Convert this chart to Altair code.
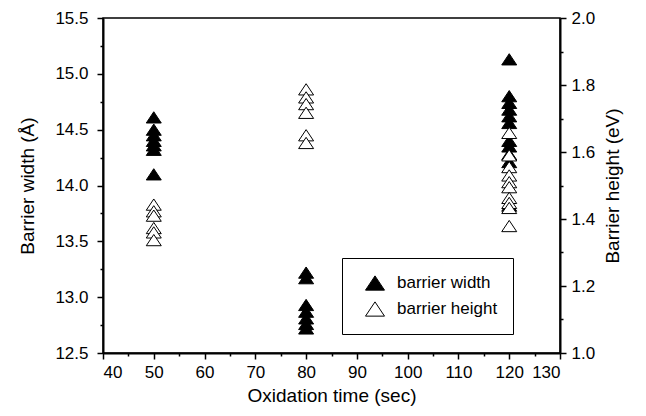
import altair as alt
import pandas as pd

# Oxidation time (sec) for each cluster
times = [50, 80, 120]

# Barrier width (Å), left axis
width_50 = [14.61, 14.50, 14.45, 14.40, 14.36, 14.32, 14.10]
width_80 = [13.22, 13.17, 12.93, 12.87, 12.81, 12.76, 12.72]
width_120 = [15.13, 14.80, 14.74, 14.68, 14.62, 14.56, 14.40, 14.35, 14.28, 14.21, 13.82]

# Barrier height (eV), right axis
height_50 = [1.443, 1.423, 1.41, 1.373, 1.36, 1.337]
height_80 = [1.787, 1.763, 1.743, 1.717, 1.65, 1.627]
height_120 = [1.657, 1.59, 1.555, 1.53, 1.51, 1.495, 1.463, 1.448, 1.433, 1.379]

series_names = ["barrier width", "barrier height"]

rows = []
for t, vals in zip(times, [width_50, width_80, width_120]):
    for v in vals:
        rows.append({"time": t, "value": v, "series": series_names[0]})
for t, vals in zip(times, [height_50, height_80, height_120]):
    for v in vals:
        rows.append({"time": t, "value": v, "series": series_names[1]})
df = pd.DataFrame(rows)

FONT = "Liberation Sans"
TRI = "M0,-0.75L-1,0.75L1,0.75Z"

x_enc = alt.X(
    "time:Q",
    scale=alt.Scale(domain=[40, 130], nice=False, zero=False),
    axis=alt.Axis(
        values=list(range(40, 131, 5)),
        labelExpr="datum.value % 10 === 0 ? datum.label : ''",
        tickSize={"condition": {"test": "datum.value % 10 === 0", "value": 6}, "value": 3},
        title="Oxidation time (sec)",
        labelPadding=5,
        titlePadding=6,
        labelOverlap=False,
    ),
)

legend = alt.Legend(
    title=None,
    orient="none",
    legendX=239,
    legendY=240,
    strokeColor="black",
    padding=15,
    symbolSize=361,
    symbolStrokeColor="black",
    symbolStrokeWidth=1,
    labelFontSize=17,
    labelFont=FONT,
    labelColor="black",
    labelExpr="datum.label + '  '",
    rowPadding=6,
    labelOffset=12,
    symbolOffset=8,
)

fill_enc = alt.Fill(
    "series:N",
    scale=alt.Scale(domain=series_names, range=["black", "white"]),
    legend=legend,
)
shape_enc = alt.Shape(
    "series:N",
    scale=alt.Scale(domain=series_names, range=[TRI, TRI]),
    legend=legend,
)
stroke_enc = alt.Stroke(
    "series:N",
    scale=alt.Scale(domain=series_names, range=["black", "black"]),
    legend=legend,
)

base = alt.Chart(df)

left = base.transform_filter(alt.datum.series == "barrier width").mark_point(
    filled=True, strokeWidth=1, opacity=1, size=225
).encode(
    x=x_enc,
    y=alt.Y(
        "value:Q",
        scale=alt.Scale(domain=[12.5, 15.5], nice=False, zero=False),
        axis=alt.Axis(
            orient="left",
            values=[12.5 + 0.25 * i for i in range(13)],
            format=".1f",
            labelExpr="abs(datum.value*2 - round(datum.value*2)) < 0.001 ? datum.label : ''",
            tickSize={"condition": {"test": "abs(datum.value*2 - round(datum.value*2)) < 0.001", "value": 6}, "value": 3},
            title="Barrier width (Å)",
            labelPadding=9,
            titlePadding=17,
            labelOverlap=False,
        ),
    ),
    fill=fill_enc,
    shape=shape_enc,
    stroke=stroke_enc,
)

right = base.transform_filter(alt.datum.series == "barrier height").mark_point(
    filled=True, strokeWidth=1, opacity=1, size=225
).encode(
    x=x_enc,
    y=alt.Y(
        "value:Q",
        scale=alt.Scale(domain=[1.0, 2.0], nice=False, zero=False),
        axis=alt.Axis(
            orient="right",
            values=[round(1.0 + 0.1 * i, 1) for i in range(11)],
            format=".1f",
            labelExpr="abs(datum.value*5 - round(datum.value*5)) < 0.001 ? datum.label : ''",
            tickSize={"condition": {"test": "abs(datum.value*5 - round(datum.value*5)) < 0.001", "value": 6}, "value": 3},
            title="Barrier height (eV)",
            titleAngle=270,
            labelPadding=5,
            titlePadding=28,
            labelOverlap=False,
        ),
    ),
    fill=fill_enc,
    shape=shape_enc,
    stroke=stroke_enc,
)

chart = (
    alt.layer(left, right)
    .resolve_scale(y="independent")
    .properties(
        width=457,
        height=335,
        autosize=alt.AutoSizeParams(type="none"),
        padding={"left": 95, "top": 10, "right": 78, "bottom": 55},
        background="white",
    )
    .configure_view(stroke="black", strokeWidth=1.5)
    .configure_axis(
        grid=False,
        domainColor="black",
        domainWidth=2,
        tickColor="black",
        tickWidth=1.5,
        labelColor="black",
        titleColor="black",
        labelFont=FONT,
        titleFont=FONT,
        labelFontSize=17,
        titleFontSize=19,
        titleFontWeight="normal",
    )
)

chart.save("out.html", embed_options={"renderer": "svg", "actions": False})
